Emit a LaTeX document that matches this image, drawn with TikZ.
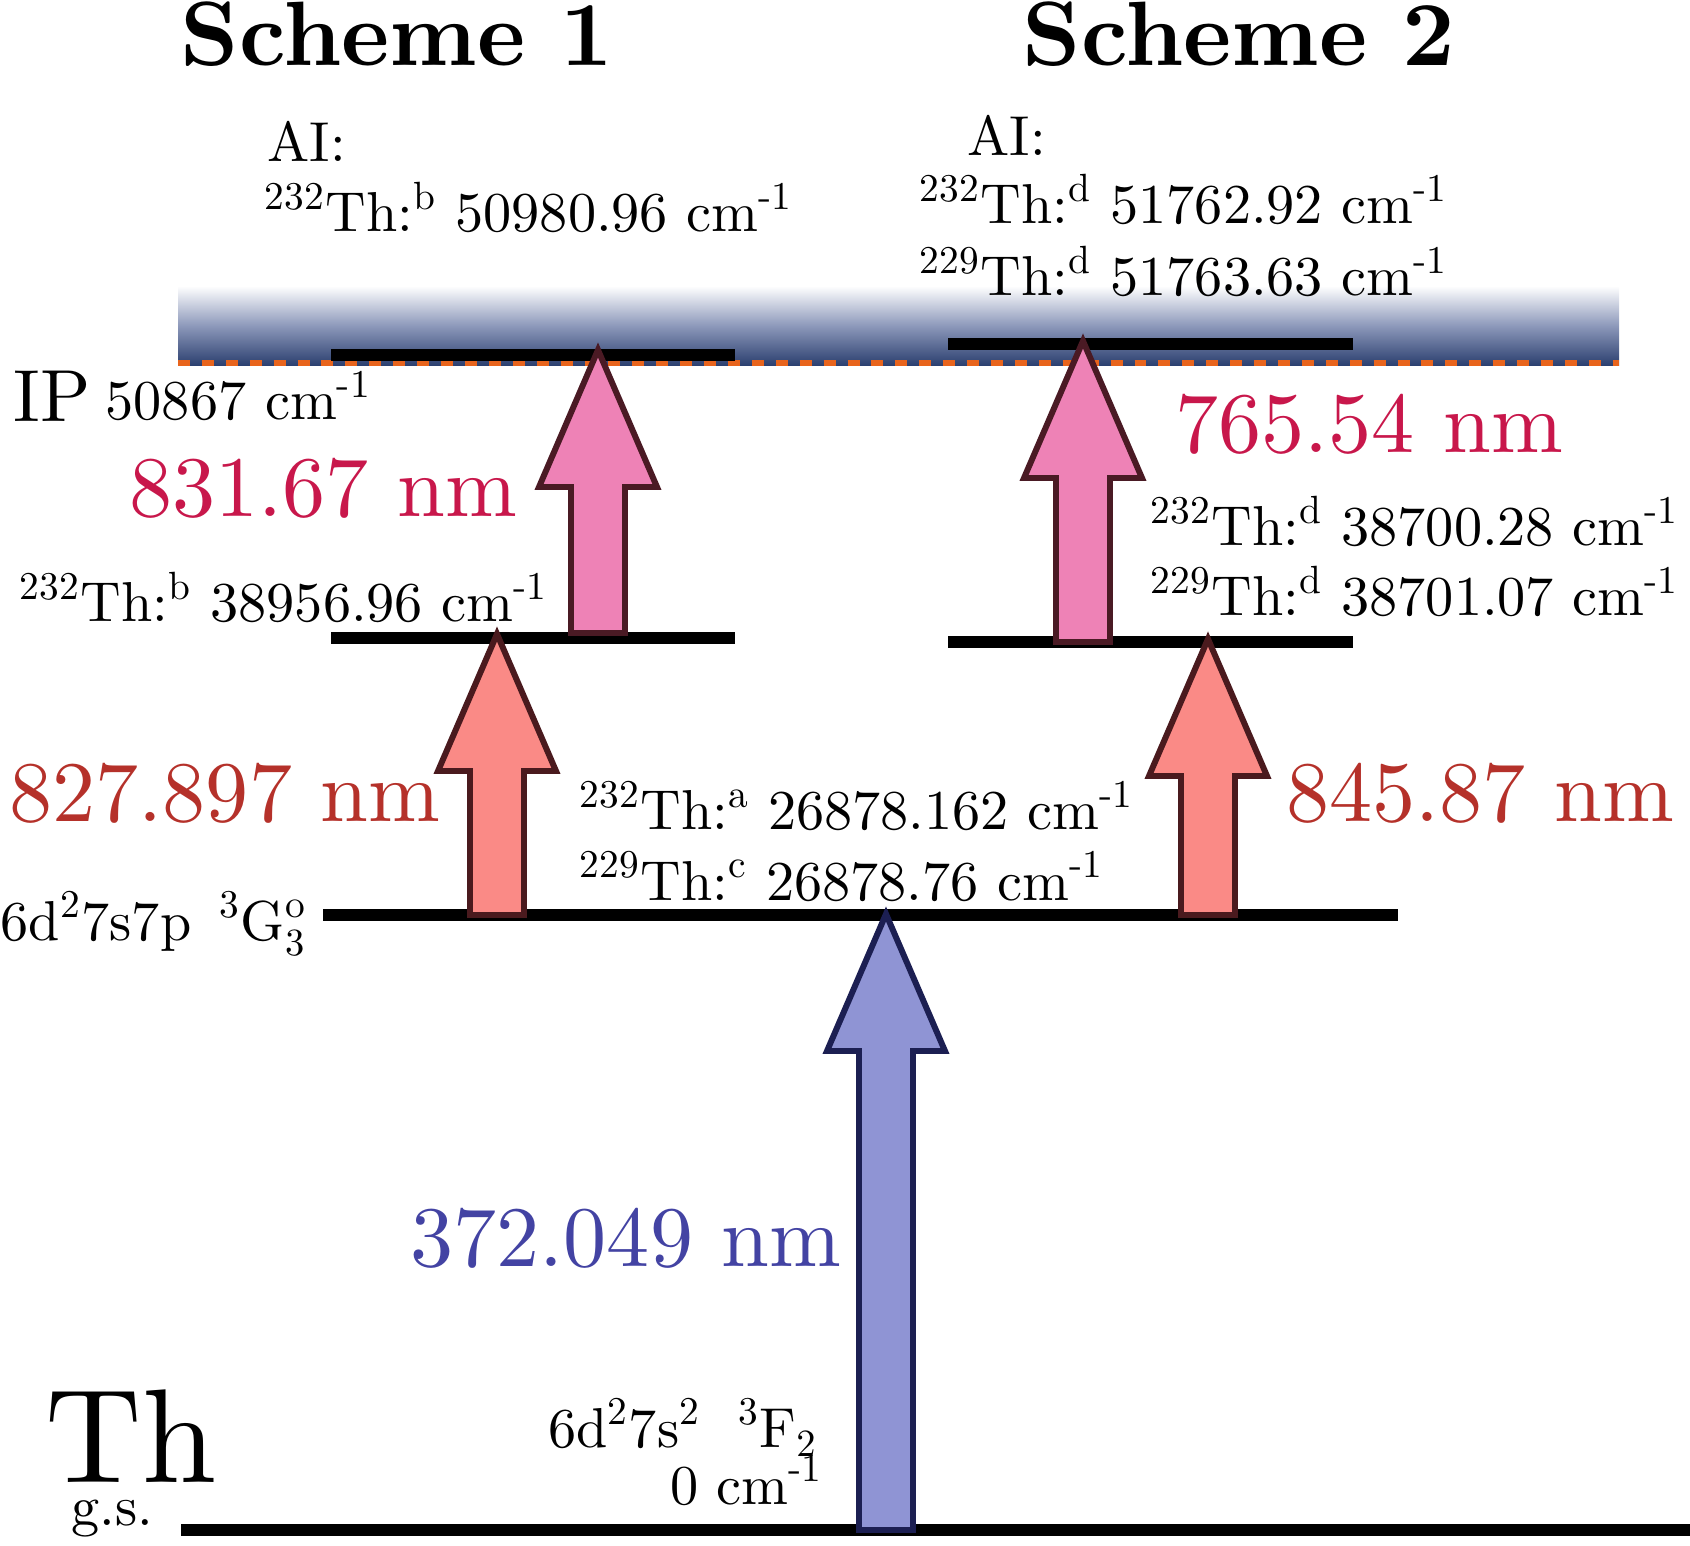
\documentclass[tikz,border=0pt]{standalone}
\usepackage{fontspec}
\setmainfont{lmroman10-regular.otf}[BoldFont=lmroman10-bold.otf, ItalicFont=lmroman10-italic.otf]
\usepackage{amsmath}
\usepackage{tikz}

\definecolor{bandnavy}{RGB}{42,62,110}
\definecolor{bandmid}{RGB}{140,152,186}
\definecolor{ipdash}{RGB}{232,100,28}
\definecolor{uvfill}{RGB}{143,148,212}
\definecolor{uvline}{RGB}{28,31,82}
\definecolor{redfill}{RGB}{250,138,134}
\definecolor{redline}{RGB}{74,26,30}
\definecolor{pinkfill}{RGB}{238,130,182}
\definecolor{pinkline}{RGB}{74,26,36}
\definecolor{uvtext}{RGB}{67,67,163}
\definecolor{redtext}{RGB}{181,49,42}
\definecolor{pinktext}{RGB}{200,23,75}

\tikzset{
  level/.style={line width=3.5pt},
  lbl/.style={anchor=base west, inner sep=0pt, font=\fontsize{16}{18}\selectfont},
  wave/.style={anchor=base west, inner sep=0pt, font=\fontsize{24.5}{28}\selectfont},
  title/.style={anchor=base, inner sep=0pt, font=\fontsize{26}{30}\selectfont\bfseries},
  uvarrow/.style={fill=uvfill, draw=uvline, line width=1.7pt},
  redarrow/.style={fill=redfill, draw=redline, line width=1.7pt},
  pinkarrow/.style={fill=pinkfill, draw=pinkline, line width=1.7pt}
}

% block arrow: style, x, bottom y, tip y
\newcommand{\exarrow}[4]{%
  \draw[#1] (#2-27,#3) -- (#2-27,#4+137) -- (#2-59,#4+137) -- (#2,#4)
    -- (#2+59,#4+137) -- (#2+27,#4+137) -- (#2+27,#3) -- cycle;}

\begin{document}
\begin{tikzpicture}[x=0.01cm, y=-0.01cm]

\useasboundingbox (0,0) rectangle (1690,1546);

% continuum
\shade[top color=white, bottom color=bandnavy, middle color=bandmid] (178,286) rectangle (1619,366);
\draw[ipdash, line width=1.7pt, dash pattern=on 3.4pt off 3.4pt] (178,363) -- (1619,363);

% levels
\coordinate (gsl) at (181,1530);  \coordinate (gsr) at (1690,1530);
\coordinate (l1l) at (323,915);   \coordinate (l1r) at (1398,915);
\coordinate (l2al) at (331,638);  \coordinate (l2ar) at (735,638);
\coordinate (l2bl) at (948,642);  \coordinate (l2br) at (1353,642);
\coordinate (aial) at (331,355);  \coordinate (aiar) at (735,355);
\coordinate (aibl) at (948,344);  \coordinate (aibr) at (1353,344);
\draw[level] (gsl) -- (gsr);
\draw[level] (l1l) -- (l1r);
\draw[level] (l2al) -- (l2ar);
\draw[level] (l2bl) -- (l2br);
\draw[level] (aial) -- (aiar);
\draw[level] (aibl) -- (aibr);

% arrows
\exarrow{uvarrow}{886}{1530}{914}
\exarrow{redarrow}{497}{915}{634}
\exarrow{redarrow}{1208}{915}{639}
\exarrow{pinkarrow}{598}{633}{350}
\exarrow{pinkarrow}{1083}{642}{341}

% titles
\node[title] (s1) at (397,66) {Scheme 1};
\node[title] (s2) at (1239,66) {Scheme 2};

% scheme 1 labels
\node[lbl] (ai1) at (267,162) {AI:};
\node[lbl] (ai1a) at (264,232) {\textsuperscript{232}Th:\textsuperscript{b} 50980.96 cm\textsuperscript{-1}};
\node[anchor=base west, inner sep=0pt, font=\fontsize{21}{24}\selectfont] (ip) at (13,422) {IP};
\node[lbl] (ipv) at (105,420) {50867 cm\textsuperscript{-1}};
\node[wave, text=pinktext] (w1b) at (129,517) {831.67 nm};
\node[lbl] (l2a) at (19,622) {\textsuperscript{232}Th:\textsuperscript{b} 38956.96 cm\textsuperscript{-1}};
\node[wave, text=redtext] (w1a) at (9,822) {827.897 nm};

% scheme 2 labels
\node[lbl] (ai2) at (967,156) {AI:};
\node[lbl] (ai2a) at (919,224) {\textsuperscript{232}Th:\textsuperscript{d} 51762.92 cm\textsuperscript{-1}};
\node[lbl] (ai2b) at (919,296) {\textsuperscript{229}Th:\textsuperscript{d} 51763.63 cm\textsuperscript{-1}};
\node[wave, text=pinktext] (w2b) at (1175,453) {765.54 nm};
\node[lbl] (l2ba) at (1150,546) {\textsuperscript{232}Th:\textsuperscript{d} 38700.28 cm\textsuperscript{-1}};
\node[lbl] (l2bb) at (1150,616) {\textsuperscript{229}Th:\textsuperscript{d} 38701.07 cm\textsuperscript{-1}};
\node[wave, text=redtext] (w2a) at (1286,822) {845.87 nm};

% first step
\node[lbl] (l1a) at (579,830) {\textsuperscript{232}Th:\textsuperscript{a} 26878.162 cm\textsuperscript{-1}};
\node[lbl] (l1b) at (579,900) {\textsuperscript{229}Th:\textsuperscript{c} 26878.76 cm\textsuperscript{-1}};
\node[lbl] (l1c) at (0,940) {6d\textsuperscript{2}7s7p \,\textsuperscript{3}G$^{\mathrm{o}}_{3}$};
\node[wave, text=uvtext] (w0) at (410,1266) {372.049 nm};

% ground state
\node[anchor=base west, inner sep=0pt, font=\fontsize{38}{42}\selectfont] (th) at (45,1482) {Th};
\node[lbl] (gs) at (71,1525) {g.s.};
\node[lbl, anchor=base east] (gsa) at (818,1447) {6d\textsuperscript{2}7s\textsuperscript{2}\ \ \textsuperscript{3}F$_{2}$};
\node[lbl, anchor=base east] (gsb) at (824,1504) {0 cm\textsuperscript{-1}};

\end{tikzpicture}
\end{document}
